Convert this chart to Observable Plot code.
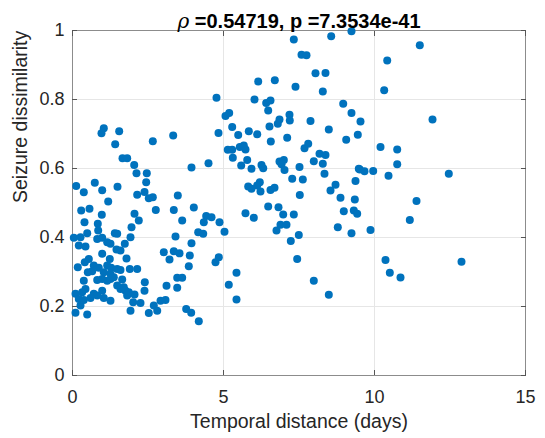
<!DOCTYPE html>
<html>
<head>
<meta charset="utf-8">
<script src="https://cdn.jsdelivr.net/npm/d3@7"></script>
<script src="https://cdn.jsdelivr.net/npm/@observablehq/plot@0.6"></script>
<style>
  html, body { margin: 0; padding: 0; background: #fff; }
  #chart svg { display: block; }
</style>
</head>
<body>
<div id="chart"></div>
<script>
const titleRho = "ρ";
const titleRest = " =0.54719, p =7.3534e-41";
const xLabel = "Temporal distance (days)";
const yLabel = "Seizure dissimilarity";
const xTicks = [0, 5, 10, 15];
const yTicks = [0, 0.2, 0.4, 0.6, 0.8, 1];

const days = [
  4.768,1.036,0.960,1.546,4.834,1.414,2.659,3.334,1.656,1.811,
  2.043,2.119,2.460,2.440,3.940,4.503,0.123,0.374,0.738,0.983,
  1.490,2.142,2.384,2.659,2.526,3.487,1.182,0.288,0.563,0.970,
  2.053,2.195,2.758,3.354,4.017,3.632,4.427,4.603,4.348,0.397,
  0.838,0.851,1.954,1.401,1.480,4.162,4.328,0.043,0.265,0.487,
  3.411,0.818,0.983,1.149,1.258,1.921,1.732,3.940,0.430,0.209,
  1.589,1.457,3.023,3.354,3.543,3.884,0.983,3.212,0.540,0.407,
  1.235,1.149,1.788,4.735,4.844,0.175,0.705,0.871,0.652,0.507,
  1.281,1.480,1.589,1.897,2.142,3.851,1.036,1.258,1.368,0.374,
  0.818,0.983,1.149,1.258,1.646,3.467,3.632,2.394,1.480,1.589,
  1.699,3.113,3.467,2.384,0.430,0.321,0.099,0.983,0.705,0.818,
  1.755,1.864,1.811,2.053,0.209,0.374,0.596,1.036,1.258,2.914,
  3.079,2.010,2.252,0.265,2.692,2.805,1.921,2.526,0.099,0.487,
  3.765,3.930,4.182,7.328,8.566,9.238,7.583,7.748,8.046,8.377,
  6.149,6.699,7.384,8.288,6.026,6.414,6.556,6.480,8.964,9.238,
  5.066,5.189,7.185,7.195,6.854,6.798,7.881,6.523,5.288,5.487,
  5.838,6.116,8.487,9.447,7.109,6.566,9.063,5.142,5.288,5.308,
  5.540,5.672,5.728,5.785,5.586,5.927,6.258,6.315,6.854,6.997,
  6.921,7.020,7.682,7.805,8.179,8.377,7.990,8.288,7.517,8.344,
  9.480,7.275,7.626,9.371,6.202,6.116,5.818,5.927,6.225,6.556,
  6.689,7.526,8.709,8.543,8.874,9.348,5.728,6.003,6.480,6.821,
  6.977,7.328,8.983,9.315,9.427,4.868,5.033,6.887,7.086,6.755,
  8.785,9.238,7.493,7.228,7.440,5.430,5.175,5.430,7.990,8.487,
  11.500,10.421,10.321,9.536,11.921,10.199,10.752,10.752,9.513,9.669,
  9.957,10.464,12.460,11.391,11.169,9.868,10.364,10.507,10.861,12.881
];
const dissimilarity = [
  0.805,0.717,0.702,0.708,0.703,0.670,0.679,0.696,0.630,0.630,
  0.610,0.586,0.586,0.560,0.603,0.615,0.549,0.531,0.559,0.537,
  0.547,0.524,0.532,0.517,0.514,0.522,0.504,0.478,0.483,0.466,
  0.469,0.449,0.480,0.480,0.487,0.449,0.462,0.459,0.444,0.444,
  0.440,0.420,0.430,0.412,0.411,0.415,0.411,0.399,0.401,0.412,
  0.403,0.396,0.399,0.386,0.382,0.401,0.382,0.383,0.374,0.377,
  0.362,0.365,0.357,0.360,0.354,0.348,0.353,0.336,0.338,0.328,
  0.338,0.319,0.339,0.328,0.343,0.314,0.319,0.312,0.302,0.299,
  0.312,0.309,0.306,0.309,0.309,0.317,0.299,0.295,0.285,0.275,
  0.277,0.280,0.275,0.280,0.278,0.283,0.283,0.270,0.261,0.251,
  0.256,0.260,0.254,0.246,0.251,0.241,0.237,0.246,0.237,0.232,
  0.246,0.241,0.232,0.235,0.222,0.219,0.225,0.225,0.217,0.217,
  0.219,0.212,0.210,0.203,0.203,0.188,0.188,0.181,0.182,0.177,
  0.193,0.182,0.157,0.974,0.983,0.998,0.930,0.928,0.876,0.877,
  0.852,0.856,0.837,0.823,0.800,0.790,0.797,0.768,0.788,0.761,
  0.752,0.761,0.756,0.739,0.742,0.730,0.738,0.722,0.720,0.697,
  0.708,0.699,0.713,0.698,0.689,0.678,0.683,0.654,0.654,0.631,
  0.662,0.667,0.655,0.625,0.609,0.599,0.610,0.601,0.620,0.625,
  0.612,0.596,0.659,0.672,0.643,0.639,0.621,0.614,0.604,0.585,
  0.599,0.570,0.568,0.564,0.560,0.551,0.548,0.541,0.533,0.538,
  0.544,0.523,0.553,0.536,0.515,0.510,0.470,0.457,0.490,0.488,
  0.467,0.467,0.476,0.478,0.469,0.444,0.417,0.437,0.437,0.420,
  0.430,0.412,0.407,0.390,0.338,0.298,0.263,0.220,0.275,0.234,
  0.957,0.913,0.827,0.736,0.742,0.662,0.655,0.612,0.597,0.592,
  0.593,0.579,0.585,0.506,0.451,0.422,0.335,0.298,0.284,0.330
];

const points = days.map((d, i) => ({days: d, dis: dissimilarity[i]}));
const font = "'Liberation Sans', Arial, Helvetica, sans-serif";
const axisColor = "#262626";
const blank = () => "";

const chart = Plot.plot({
  width: 545,
  height: 438,
  marginLeft: 72,
  marginRight: 20,
  marginTop: 30,
  marginBottom: 63,
  style: {fontFamily: font, background: "#fff", color: axisColor, overflow: "visible"},
  x: {domain: [0, 15], label: null},
  y: {domain: [0, 1], label: null},
  marks: [
    Plot.gridX(xTicks, {stroke: "#e6e6e6", strokeOpacity: 1}),
    Plot.gridY(yTicks, {stroke: "#e6e6e6", strokeOpacity: 1}),
    Plot.frame({stroke: "#8c8c8c"}),
    Plot.axisX(xTicks, {anchor: "bottom", tickSize: 0, tickPadding: 15, fontSize: 18, label: null, tickFormat: d => String(d)}),
    Plot.axisY(yTicks, {anchor: "left", tickSize: 0, tickPadding: 8, fontSize: 18, label: null, tickFormat: d => String(d)}),
    Plot.axisX(xTicks, {anchor: "bottom", tickSize: -5, stroke: "#555", label: null, tickFormat: blank}),
    Plot.axisX(xTicks, {anchor: "top", tickSize: -5, stroke: "#555", label: null, tickFormat: blank}),
    Plot.axisY(yTicks, {anchor: "left", tickSize: -5, stroke: "#555", label: null, tickFormat: blank}),
    Plot.axisY(yTicks, {anchor: "right", tickSize: -5, stroke: "#555", label: null, tickFormat: blank}),
    Plot.dot(points, {x: "days", y: "dis", r: 4, fill: "#0072BD", stroke: null}),
    Plot.text([xLabel], {text: d => d, frameAnchor: "bottom", dy: 52, fontSize: 19.5, fill: axisColor}),
    Plot.text([yLabel], {text: d => d, frameAnchor: "left", dx: -52, rotate: -90, fontSize: 19.5, fill: axisColor}),
    Plot.text([titleRho + titleRest], {text: d => d, frameAnchor: "top", lineAnchor: "bottom", dy: -3, fontSize: 20, fontWeight: "bold", fill: "#000", className: "chart-title"})
  ]
});

document.getElementById("chart").appendChild(chart);

// Style the title so that rho is italic and not bold, like TeX rendering
const titleText = d3.select(chart).select("g.chart-title text");
if (!titleText.empty()) {
  titleText.text(null);
  titleText.append("tspan").attr("font-style", "italic").attr("font-weight", "normal").attr("font-family", "'DejaVu Serif', serif").text(titleRho);
  titleText.append("tspan").text(titleRest);
}
</script>
</body>
</html>
